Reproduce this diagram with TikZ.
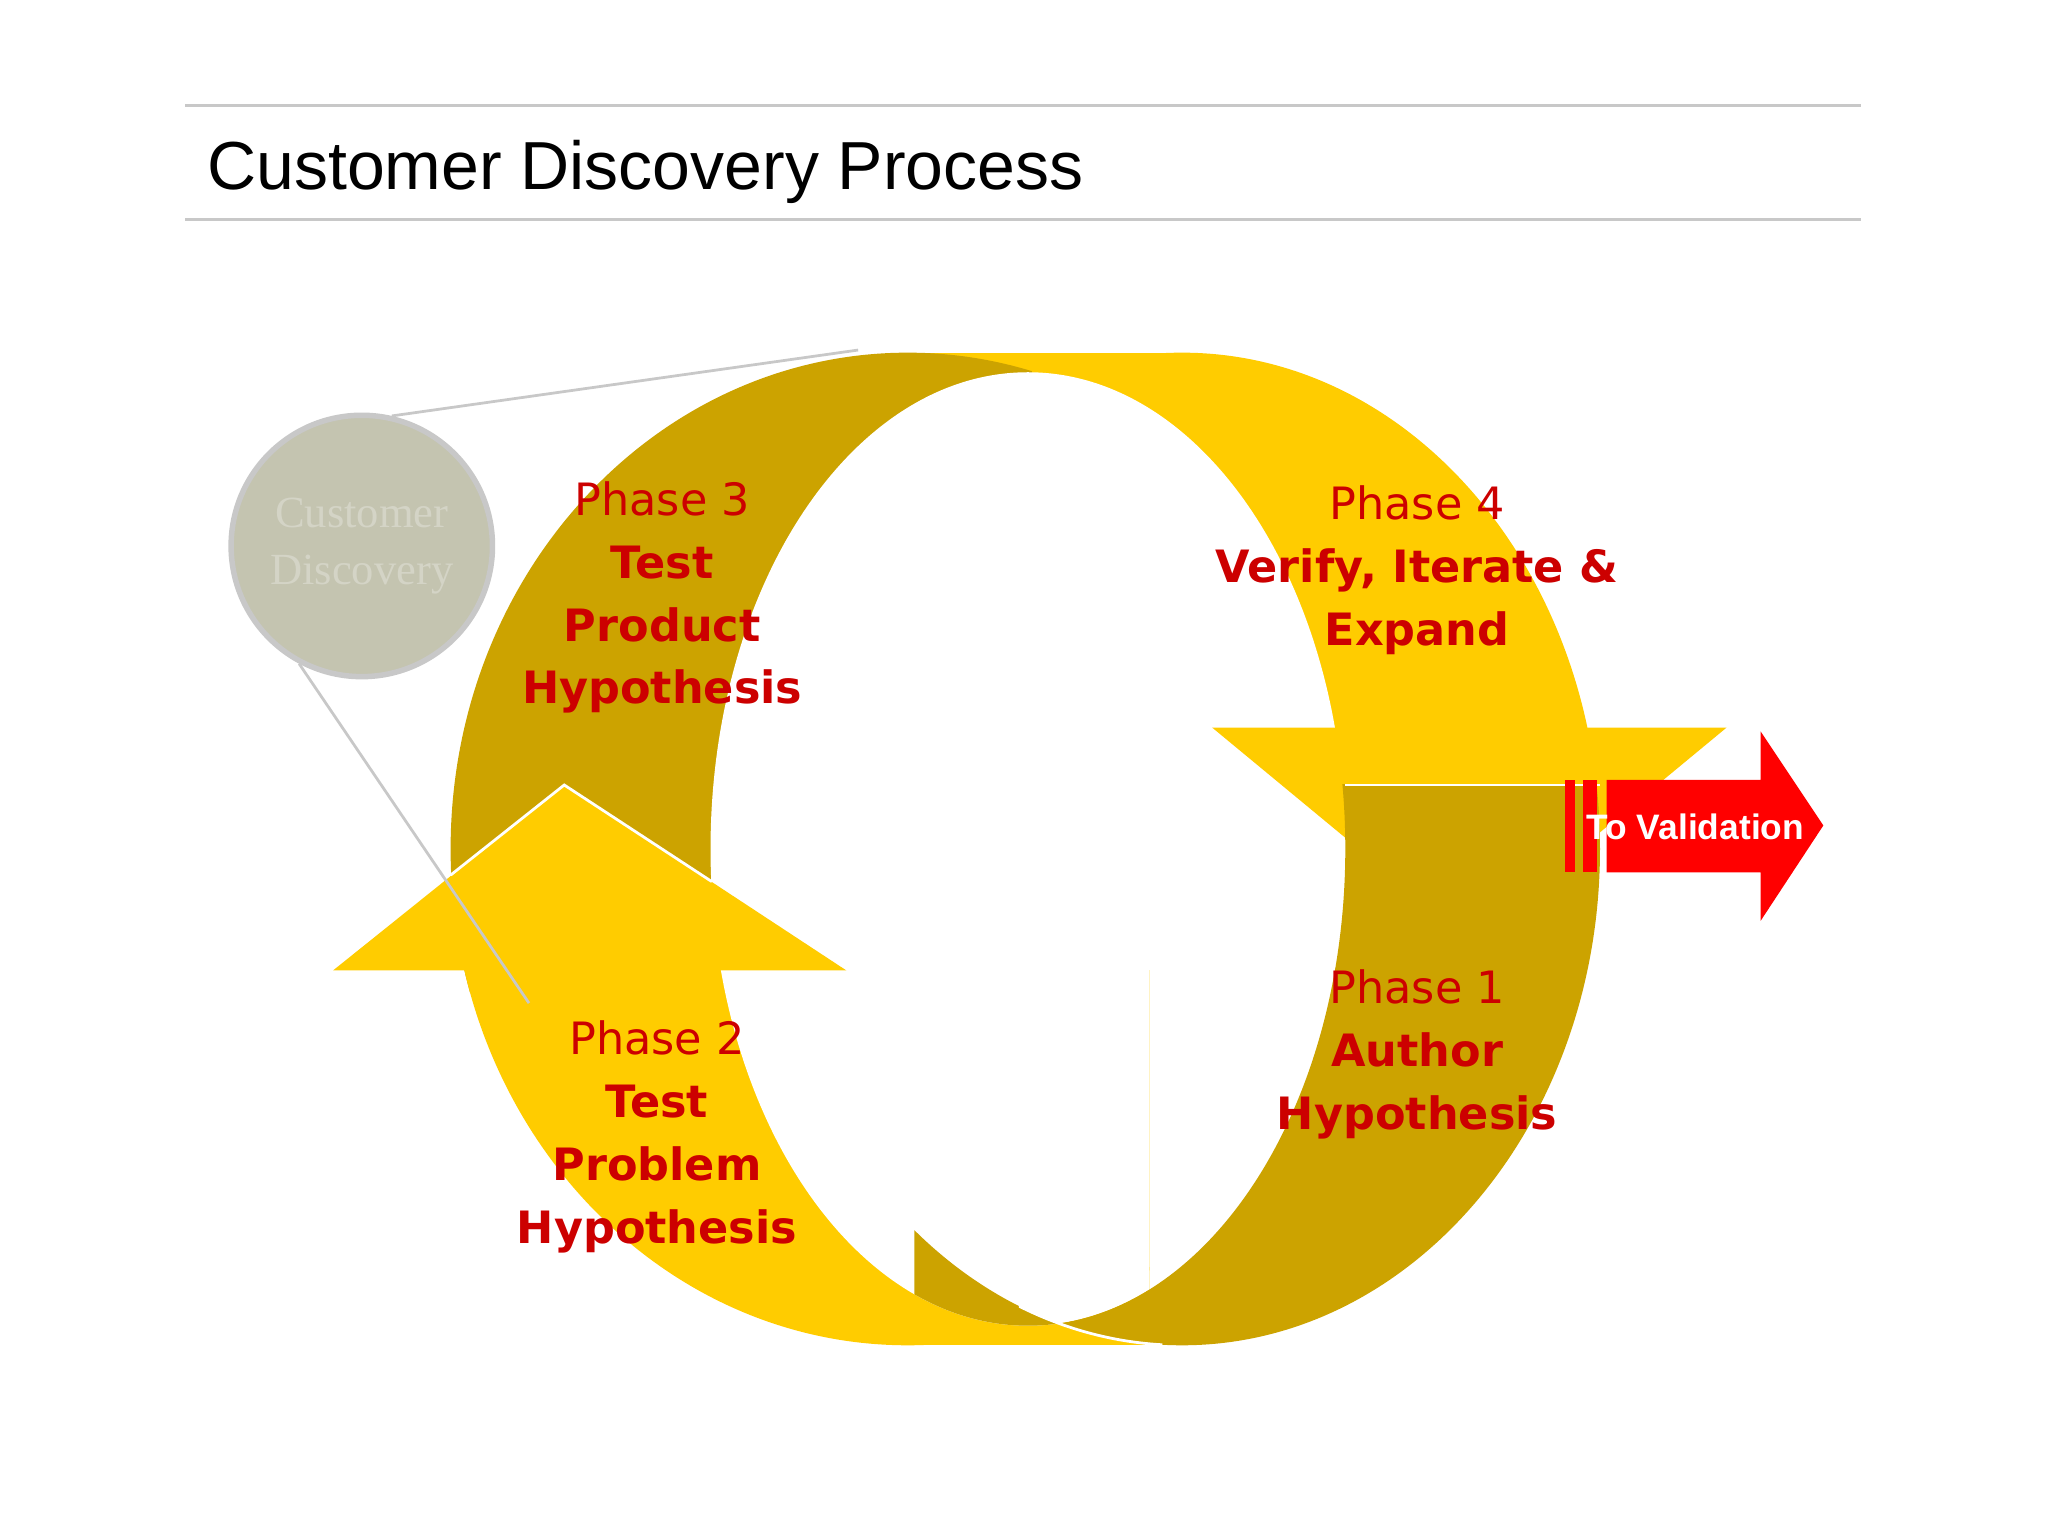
\documentclass[tikz,border=0pt]{standalone}
\usepackage{fontspec}
\setmainfont{DejaVu Sans}
\newfontfamily\titlefont{Liberation Sans}
\newfontfamily\serifont{Liberation Serif}
\begin{document}
\begin{tikzpicture}[x=0.01cm,y=-0.01cm,
  dark/.style={fill={rgb,255:red,204;green,163;blue,0}},
  yel/.style={fill={rgb,255:red,255;green,204;blue,0}},
  hole/.style={fill=white},
  phase/.style={text={rgb,255:red,204;green,0;blue,0},align=center,font=\fontsize{9.7}{13.7}\selectfont},
  rule/.style={draw={rgb,255:red,200;green,200;blue,200},line width=0.6pt}]
\useasboundingbox[fill=white] (0,0) rectangle (1568,1176);
% header
\draw[rule] (142,81) -- (1425,81);
\draw[rule] (142,168) -- (1425,168);
\node[anchor=base west,inner sep=0,font=\titlefont\fontsize{14.8}{16}\selectfont] (title) at (158,145) {Customer Discovery Process};
% Phase 4 (upper right, yellow)
\begin{scope}
\clip (695,200) rectangle (1400,557);
\fill[yel] (905,650) ellipse [x radius=320,y radius=380];
\fill[yel] (695,270) rectangle (905,330);
\fill[hole] (787,650) ellipse [x radius=243,y radius=365];
\end{scope}
\fill[yel] (928,557) -- (1322,557) -- (1125,720) -- cycle;
% Phase 3 (upper left, dark)
\begin{scope}
\clip (300,200) rectangle (790,760);
\fill[dark] (695,650) ellipse [x radius=350,y radius=380];
\fill[hole] (787,650) ellipse [x radius=243,y radius=365];
\end{scope}
% Phase 2 (lower left, yellow)
\begin{scope}
\clip (300,743) rectangle (880,1100);
\fill[yel] (695,650) ellipse [x radius=350,y radius=380];
\fill[yel] (695,970) rectangle (905,1030);
\fill[hole] (787,650) ellipse [x radius=243,y radius=365];
\end{scope}
\fill[yel] (255,743) -- (432,601) -- (648,743) -- cycle;
\draw[white,line width=0.6pt] (345,670) -- (432,601) -- (545,675);
% Phase 1 (lower right, dark)
\begin{scope}
\clip (700,601) rectangle (1300,1100);
\fill[dark,even odd rule] (905,650) ellipse [x radius=320,y radius=380] (787,650) ellipse [x radius=243,y radius=365];
\draw[white,line width=0.6pt] (1030,601) -- (1225,601);
\end{scope}
\begin{scope}
\clip (780,960) rectangle (890,1040);
\draw[white,line width=0.6pt] (905,650) ellipse [x radius=320,y radius=380];
\end{scope}
% zoom circle and lines
\node[circle,minimum size=2cm,inner sep=0,fill={rgb,255:red,196;green,196;blue,176},draw={rgb,255:red,200;green,200;blue,200},line width=1.2pt,
  text={rgb,255:red,212;green,212;blue,198},align=center,font=\serifont\fontsize{9.7}{12.5}\selectfont] (cd) at (277,418) {Customer\\Discovery};
\coordinate (z1) at (657,268);
\coordinate (z2) at (405,768);
\draw[rule] (cd.77) -- (z1);
\draw[rule] (cd.-118) -- (z2);
% To Validation arrow
\fill[red] (1198,597) rectangle (1206,668);
\fill[red] (1212,597) rectangle (1223,668);
\fill[red] (1230,597) -- (1348,597) -- (1348,560) -- (1396,632) -- (1348,705) -- (1348,668) -- (1230,668) -- cycle;
\node[anchor=west,inner sep=0,text=white,font=\titlefont\bfseries\fontsize{7.7}{9}\selectfont] (val) at (1214,633) {To Validation};
% labels
\node[phase,anchor=base] (p3) at (507,539) {Phase 3\\\textbf{Test}\\\textbf{Product}\\\textbf{Hypothesis}};
\node[phase,anchor=base] (p4) at (1085,494) {Phase 4\\\textbf{Verify, Iterate \&}\\\textbf{Expand}};
\node[phase,anchor=base] (p1) at (1085,865) {Phase 1\\\textbf{Author}\\\textbf{Hypothesis}};
\node[phase,anchor=base] (p2) at (503,952) {Phase 2\\\textbf{Test}\\\textbf{Problem}\\\textbf{Hypothesis}};
\end{tikzpicture}
\end{document}
